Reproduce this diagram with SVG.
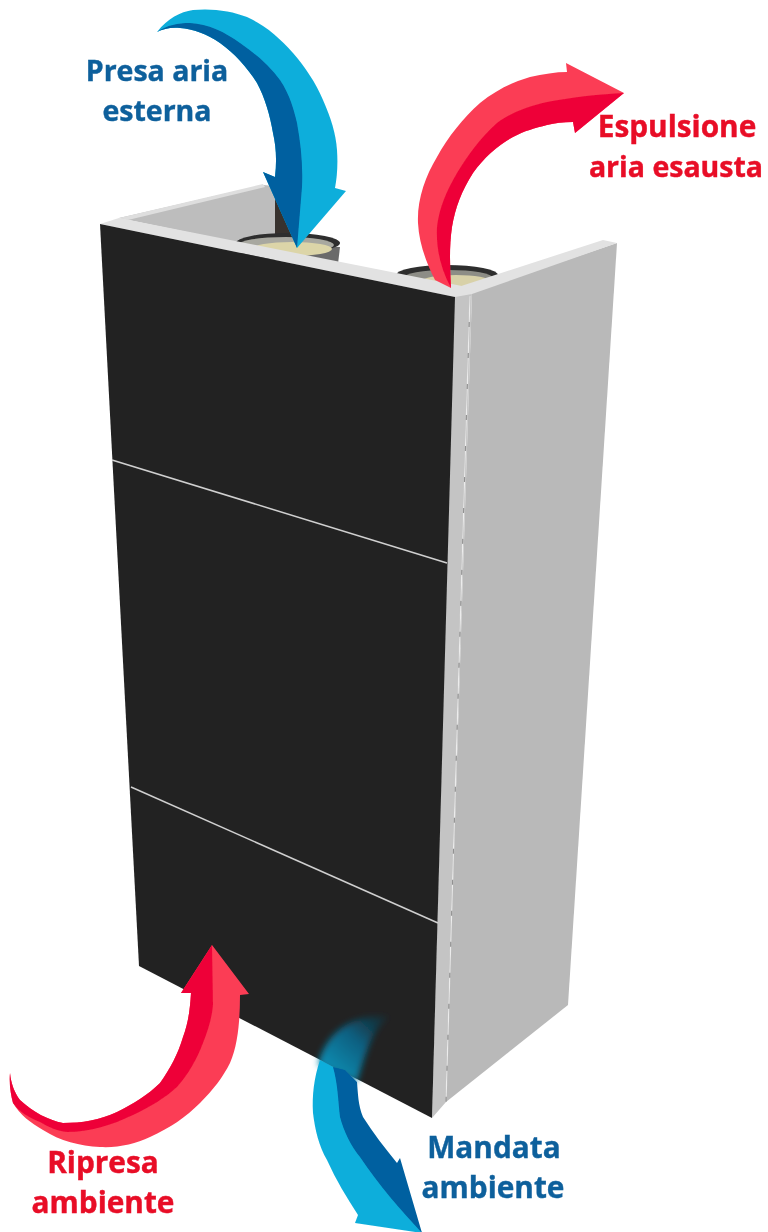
<svg xmlns="http://www.w3.org/2000/svg" width="768" height="1232" viewBox="0 0 768 1232">
<style>
text{font-family:"Open Sans","Noto Sans","Liberation Sans",sans-serif;font-weight:700;font-size:28.5px;stroke-width:0.4;filter:url(#soft);text-anchor:middle}
.big{font-size:29.8px}
.blue{fill:#11609c;stroke:#11609c}.red{fill:#e80a26;stroke:#e80a26}
.lb{fill:#0daedb}.db{fill:#0461a0}.lr{fill:#fb3d55}.dr{fill:#ee0539}
.rim{fill:#e2e2e2}.side{fill:#b9b9b9}.front{fill:#242424}
.div{stroke:#d0d0d0;stroke-width:1.5;fill:none}
</style>
<defs>
<filter id="soft" x="-10%" y="-10%" width="120%" height="120%"><feGaussianBlur stdDeviation="0.45"/></filter>
<filter id="soft2" x="-30%" y="-30%" width="160%" height="160%"><feGaussianBlur stdDeviation="3"/></filter>
<linearGradient id="fade1" gradientUnits="userSpaceOnUse" x1="335" y1="1070" x2="385" y2="1015"><stop offset="0" stop-color="#0a88ad"/><stop offset="0.5" stop-color="#0a5f80"/><stop offset="1" stop-color="#0a4a63" stop-opacity="0.2"/></linearGradient>
</defs>
<rect width="768" height="1232" fill="#fff"/>
<g id="box" filter="url(#soft)">
<polygon id="back-wall" points="119,218 263,185 276,186 276,240 235,250 380,272" fill="#bdbdbd"/>
<polygon points="119,218 263,184 265,187 128,220" fill="#dedede"/>
<polygon points="275,190 290,190 290,240 275,240" fill="#38322e"/>
<g id="pipe-1">
<path d="M236,242 L243,258 L338,264 L340,247 Z" fill="#6b6b6b"/>
<ellipse cx="288" cy="243" rx="52" ry="10" fill="#2e2e2e"/>
<ellipse cx="286" cy="245" rx="48" ry="8" fill="#a8a8a0"/>
<ellipse cx="292" cy="249" rx="40" ry="7" fill="#dcd5a8"/>
</g>
<g id="pipe-2">
<ellipse cx="447" cy="275" rx="51" ry="10" fill="#2e2e2e"/>
<ellipse cx="448" cy="278" rx="45" ry="8" fill="#8d8d86"/>
<ellipse cx="456" cy="281" rx="34" ry="6" fill="#d8d1a8"/>
</g>
<polygon id="right-panel" class="side" points="472,292 617,243 568,1005 446,1102"/>
<polygon id="corner-strip" fill="#c4c4c4" points="454,296 472,292 446,1102 432,1118"/>
<polygon id="right-rim" class="rim" points="455,288 603,240 617,243 472,294"/>
<polygon id="top-rim" class="rim" points="100,224 119,218 472,288 472,294 455,297"/>
<polygon id="front" class="front" points="100,224 455,297 432,1118 139,966"/>
<line class="div" x1="112" y1="460" x2="447" y2="563"/>
<line class="div" x1="131" y1="787" x2="438" y2="923"/>
<line x1="470" y1="296" x2="446" y2="1102" stroke="#8f8f8f" stroke-width="1"/>
<line x1="470" y1="296" x2="446" y2="1102" stroke="#ececec" stroke-width="1.2" stroke-dasharray="26 5"/>
</g>
<g id="connectors">
<g id="arrow-presa" filter="url(#soft)">
<path class="lb" d="M157,32 C168,18 180,12 193,10 C212,8 232,11 247,17 C265,25 280,38 293,53 C305,67 316,83 323,100 C331,118 336,134 337,150 C338,165 337,178 335,188 L346,191 L297,248 L263,172 L275,177 C277,160 276,146 273,133 C270,115 265,98 257,83 C247,67 234,53 220,43 C207,34 193,29 180,28 C171,27 163,29 157,32 Z"/>
<path class="db" d="M157,32 C167,25 178,23 190,23 C208,24 225,32 240,43 C256,54 270,66 280,80 C290,95 294,110 297,123 C301,145 303,165 302,187 L297,248 L263,172 L275,177 C277,160 276,146 273,133 C270,115 265,98 257,83 C247,67 234,53 220,43 C207,34 193,29 180,28 C171,27 163,29 157,32 Z"/>
</g>
<g id="arrow-espulsione" filter="url(#soft)">
<path class="lr" d="M451,288 L435,280 C426,262 419,243 418,223 C417,200 425,177 437,157 C448,137 463,118 480,103 C496,90 513,82 530,77 C543,74 556,72 567,72 L566,63 L624,93 L575,133 L573,122 C563,122 555,123 547,125 C535,128 524,131 513,137 C497,146 484,158 473,173 C462,190 455,208 452,227 C449,247 450,268 451,288 Z"/>
<path class="dr" d="M451,288 C440,268 436,247 437,227 C439,208 447,190 457,173 C468,155 481,137 497,123 C512,112 529,106 547,102 C573,97 600,94 624,93 L575,133 L573,122 C563,122 555,123 547,125 C535,128 524,131 513,137 C497,146 484,158 473,173 C462,190 455,208 452,227 C449,247 450,268 451,288 Z"/>
</g>
<g id="arrow-ripresa" filter="url(#soft)">
<path class="lr" d="M10,1073 C9,1085 11,1095 13,1103 C20,1115 31,1123 43,1130 C60,1141 80,1146 100,1147 C118,1148 135,1144 150,1137 C170,1128 186,1117 200,1103 C213,1090 223,1077 230,1063 C238,1045 240,1020 240,995 L249,994 L212,945 L181,993 L191,993 C190,1010 188,1024 183,1037 C178,1054 170,1069 160,1083 C148,1095 133,1104 117,1112 C100,1120 82,1123 63,1123 C48,1120 33,1112 20,1100 C14,1092 11,1083 10,1073 Z"/>
<path class="dr" d="M10,1073 C9,1085 11,1095 13,1103 C20,1113 30,1118 40,1122 C48,1127 57,1131 67,1132 C90,1132 112,1125 133,1115 C150,1107 165,1098 177,1087 C188,1075 197,1059 203,1043 C208,1030 212,1018 213,1005 L212,945 L181,993 L191,993 C190,1010 188,1024 183,1037 C178,1054 170,1069 160,1083 C148,1095 133,1104 117,1112 C100,1120 82,1123 63,1123 C48,1120 33,1112 20,1100 C14,1092 11,1083 10,1073 Z"/>
</g>
<g id="arrow-mandata" filter="url(#soft)">
<path d="M318,1065 C325,1035 350,1012 390,1017 C375,1025 368,1045 357,1082 Z" fill="url(#fade1)" filter="url(#soft2)"/>
<path class="lb" d="M320,1060 C314,1078 312,1095 313,1113 C315,1130 319,1146 327,1160 C336,1180 347,1198 358,1215 L355,1223 L422,1233 L400,1190 L345,1085 L333,1067 Z"/>
<path class="db" d="M333,1067 C338,1085 338,1100 340,1117 C344,1132 351,1146 360,1157 C369,1170 379,1184 390,1197 C400,1209 411,1221 422,1233 L400,1158 L397,1163 C385,1148 373,1133 363,1117 C358,1105 358,1093 357,1082 L345,1070 Z"/>
</g>
</g>
<g id="labels">
<text class="blue" x="157" y="81">Presa aria</text>
<text class="blue" x="157" y="121">esterna</text>
<text class="red big" x="677" y="137">Espulsione</text>
<text class="red" x="676" y="177">aria esausta</text>
<text class="red big" x="103" y="1173">Ripresa</text>
<text class="red big" x="103" y="1213">ambiente</text>
<text class="blue big" x="494" y="1158">Mandata</text>
<text class="blue big" x="493" y="1198">ambiente</text>
</g>
</svg>
